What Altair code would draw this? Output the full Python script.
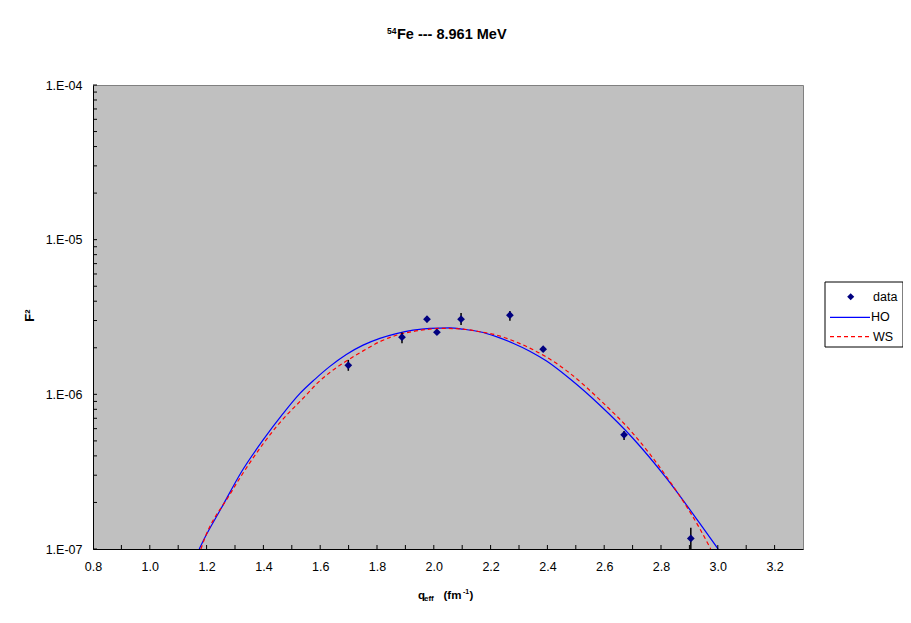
import altair as alt
import pandas as pd

# ---------------- data ----------------
q_data = [1.699, 1.888, 1.976, 2.011, 2.096, 2.268, 2.385, 2.670, 2.905]
f2_data = [1.54e-6, 2.34e-6, 3.06e-6, 2.52e-6, 3.06e-6, 3.25e-6, 1.96e-6, 5.47e-7, 1.17e-7]
f2_lo = [1.42e-6, 2.14e-6, 2.92e-6, 2.46e-6, 2.81e-6, 2.99e-6, 1.91e-6, 5.07e-7, 9.0e-8]
f2_hi = [1.67e-6, 2.51e-6, 3.20e-6, 2.58e-6, 3.36e-6, 3.46e-6, 2.01e-6, 5.80e-7, 1.37e-7]

ho_q = [1.174, 1.187, 1.252, 1.323, 1.399, 1.469, 1.528, 1.581, 1.633, 1.692,
        1.751, 1.810, 1.868, 1.927, 1.986, 2.056, 2.103, 2.162, 2.220, 2.279,
        2.338, 2.397, 2.479, 2.585, 2.701, 2.819, 2.936, 3.001]
ho_f2 = [1.0e-7, 1.12e-7, 1.84e-7, 3.16e-7, 5.07e-7, 7.5e-7, 1.01e-6, 1.25e-6, 1.51e-6, 1.81e-6,
         2.08e-6, 2.30e-6, 2.47e-6, 2.60e-6, 2.67e-6, 2.69e-6, 2.64e-6, 2.54e-6, 2.36e-6, 2.14e-6,
         1.90e-6, 1.64e-6, 1.26e-6, 8.5e-7, 5.2e-7, 2.87e-7, 1.47e-7, 1.0e-7]

ws_q = [1.180, 1.187, 1.281, 1.363, 1.446, 1.551, 1.592, 1.633, 1.692, 1.751,
        1.810, 1.868, 1.927, 1.986, 2.033, 2.103, 2.162, 2.220, 2.279, 2.338,
        2.397, 2.479, 2.585, 2.701, 2.819, 2.936, 2.975]
ws_f2 = [1.0e-7, 1.09e-7, 2.24e-7, 3.86e-7, 6.18e-7, 9.91e-7, 1.19e-6, 1.38e-6, 1.64e-6, 1.91e-6,
         2.19e-6, 2.41e-6, 2.55e-6, 2.64e-6, 2.67e-6, 2.64e-6, 2.54e-6, 2.42e-6, 2.22e-6, 1.99e-6,
         1.74e-6, 1.37e-6, 9.2e-7, 5.6e-7, 2.94e-7, 1.36e-7, 1.0e-7]

x_label_values = [0.8, 1.0, 1.2, 1.4, 1.6, 1.8, 2.0, 2.2, 2.4, 2.6, 2.8, 3.0, 3.2]
x_tick_values = [0.9, 1.0, 1.1, 1.2, 1.3, 1.4, 1.5, 1.6, 1.7, 1.8, 1.9, 2.0, 2.1,
                 2.2, 2.3, 2.4, 2.5, 2.6, 2.7, 2.8, 2.9, 3.0, 3.1, 3.2]
y_label_values = [1e-7, 1e-6, 1e-5, 1e-4]
y_tick_values = [m * 10.0 ** e for e in (-7, -6, -5) for m in range(1, 10)] + [1e-4]

legend_labels = ["data", "HO", "WS"]
title_sup = "54"
title_main = "Fe --- 8.961 MeV"

FONT = "Liberation Sans"
W, H = 710, 464

# ---------------- tables ----------------
pts = pd.DataFrame({"q": q_data, "f2": f2_data, "lo": f2_lo, "hi": f2_hi})
ho = pd.DataFrame({"q": ho_q, "f2": ho_f2})
ws = pd.DataFrame({"q": ws_q, "f2": ws_f2})
xt = pd.DataFrame({"q": x_tick_values})
yt = pd.DataFrame({"f2": y_tick_values})

xscale = alt.Scale(domain=[0.8, 3.3], nice=False, zero=False)
yscale = alt.Scale(type="log", domain=[1e-7, 1e-4], nice=False)
xaxis = alt.Axis(values=x_label_values, format=".1f", ticks=False, grid=False,
                 title=None, labelPadding=11, domainColor="black", labelFlush=False)
yaxis = alt.Axis(values=y_label_values, ticks=False, grid=False, title=None,
                 labelPadding=11, domainColor="black",
                 labelExpr="'1.E-0' + round(-log(datum.value)/LN10)")


def X(field="q"):
    return alt.X(f"{field}:Q", scale=xscale, axis=xaxis)


def Y(field="f2"):
    return alt.Y(f"{field}:Q", scale=yscale, axis=yaxis)


ho_line = alt.Chart(ho).mark_line(color="#0000FF", strokeWidth=1.2, clip=True,
                                  interpolate="monotone").encode(
    x=X(), y=Y(), order="q:Q")
ws_line = alt.Chart(ws).mark_line(color="#FF0000", strokeWidth=1.2, strokeDash=[4, 3],
                                  clip=True, interpolate="monotone").encode(
    x=X(), y=Y(), order="q:Q")
errs = alt.Chart(pts).mark_rule(color="black", strokeWidth=1.5, clip=True).encode(
    x=X(), y=Y("lo"), y2="hi:Q")
points = alt.Chart(pts).mark_point(shape="diamond", filled=True, size=60, color="#000080",
                                   opacity=1).encode(x=X(), y=Y())

xticks = alt.Chart(xt).mark_rule(color="black", strokeWidth=1).encode(
    x=X(), y=alt.value(H), y2=alt.value(H - 4))
yticks = alt.Chart(yt).mark_rule(color="black", strokeWidth=1).encode(
    y=Y(), x=alt.value(0), x2=alt.value(4))


def text(t, x, y, size, bold=True, align="left", baseline="alphabetic", angle=0):
    return alt.Chart(pd.DataFrame({"t": [t]})).mark_text(
        font=FONT, fontSize=size, fontWeight="bold" if bold else "normal",
        align=align, baseline=baseline, angle=angle, color="black"
    ).encode(x=alt.value(x), y=alt.value(y), text="t:N")


titles = [
    text(title_sup, 303.5, -51.5, 8.5, align="right"),
    text(title_main, 304, -46, 14.5),
    text("q", 325, 514, 11.5),
    text("eff", 331, 516, 8),
    text("(fm", 350.5, 514, 11.5),
    text("-1", 370, 509, 7),
    text(")", 376.5, 514, 11.5),
    text("F\u00b2", -63, 230.5, 13, align="center", baseline="middle", angle=270),
]

one = pd.DataFrame({"a": [0]})
leg_box = alt.Chart(one).mark_rect(fill="white", stroke="black", strokeWidth=1).encode(
    x=alt.value(732), x2=alt.value(810), y=alt.value(197), y2=alt.value(262))
leg_pt = alt.Chart(one).mark_point(shape="diamond", filled=True, size=50, color="#000080",
                                   opacity=1).encode(x=alt.value(757.7), y=alt.value(211.7))
leg_ho = alt.Chart(one).mark_rule(color="#0000FF", strokeWidth=1.2).encode(
    x=alt.value(737), x2=alt.value(777), y=alt.value(232.3))
leg_ws = alt.Chart(one).mark_rule(color="#FF0000", strokeWidth=1.2, strokeDash=[4, 3]).encode(
    x=alt.value(737), x2=alt.value(777), y=alt.value(251.7))
leg_texts = [
    text(legend_labels[0], 780, 211.7, 12.5, bold=False, baseline="middle"),
    text(legend_labels[1], 778, 232.3, 12.5, bold=False, baseline="middle"),
    text(legend_labels[2], 780, 251.7, 12.5, bold=False, baseline="middle"),
]

chart = alt.layer(
    ho_line, ws_line, errs, points, xticks, yticks,
    *titles, leg_box, leg_pt, leg_ho, leg_ws, *leg_texts
).properties(
    width=W, height=H,
    autosize=alt.AutoSizeParams(type="none"),
    padding={"left": 85, "top": 77, "right": 100, "bottom": 58},
    background="white",
).configure_view(
    fill="#C0C0C0", stroke="#808080", strokeWidth=1
).configure_axis(
    labelFont=FONT, labelFontSize=12.5, labelColor="black", domainWidth=1
)

chart.save("out.html", embed_options={"renderer": "svg", "actions": False})
